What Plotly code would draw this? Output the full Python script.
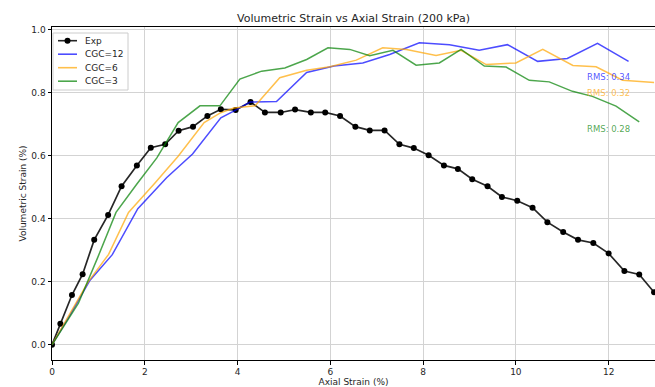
import plotly.graph_objects as go

# Experimental data
exp_x = [0, 0.18, 0.43, 0.66, 0.91, 1.21, 1.50, 1.83, 2.13, 2.44, 2.73, 3.04, 3.35, 3.64, 3.96,
         4.28, 4.59, 4.93, 5.24, 5.58, 5.89, 6.21, 6.54, 6.85, 7.17, 7.49, 7.80, 8.12, 8.45,
         8.75, 9.06, 9.39, 9.70, 10.03, 10.36, 10.68, 11.02, 11.34, 11.67, 12.00, 12.34, 12.66, 12.98]
exp_y = [0, 0.067, 0.158, 0.224, 0.333, 0.412, 0.503, 0.569, 0.625, 0.636, 0.679, 0.692, 0.726, 0.747, 0.745,
         0.770, 0.737, 0.737, 0.746, 0.737, 0.737, 0.726, 0.692, 0.680, 0.680, 0.636, 0.624, 0.601, 0.569,
         0.558, 0.525, 0.503, 0.469, 0.457, 0.435, 0.389, 0.358, 0.333, 0.323, 0.290, 0.234, 0.223, 0.167]

# CGC=12
c12_x = [0, 0.39, 0.82, 1.30, 1.85, 2.47, 3.03, 3.64, 3.98, 4.27, 4.84, 5.49, 6.08, 6.70, 7.28,
         7.92, 8.57, 9.21, 9.82, 10.47, 11.11, 11.76, 12.43]
c12_y = [0, 0.095, 0.205, 0.286, 0.432, 0.530, 0.605, 0.720, 0.746, 0.770, 0.772, 0.864, 0.884, 0.894, 0.921,
         0.958, 0.952, 0.934, 0.952, 0.899, 0.908, 0.956, 0.899]

# CGC=6
c6_x = [0, 0.40, 0.78, 1.22, 1.65, 2.22, 2.72, 3.28, 3.62, 3.92, 4.38, 4.91, 5.49, 5.99, 6.56,
        7.13, 7.64, 8.28, 8.82, 9.36, 10.00, 10.58, 11.23, 11.73, 12.30, 12.98]
c6_y = [0, 0.105, 0.200, 0.287, 0.420, 0.513, 0.598, 0.705, 0.735, 0.751, 0.758, 0.847, 0.871, 0.882, 0.903,
        0.942, 0.937, 0.918, 0.934, 0.889, 0.894, 0.937, 0.886, 0.882, 0.839, 0.832]

# CGC=3
c3_x = [0, 0.28, 0.57, 0.98, 1.38, 1.83, 2.26, 2.72, 3.19, 3.62, 4.05, 4.52, 5.02, 5.49, 5.95,
        6.42, 6.85, 7.35, 7.85, 8.35, 8.82, 9.32, 9.79, 10.29, 10.72, 11.22, 11.65, 12.16, 12.66]
c3_y = [0, 0.063, 0.132, 0.275, 0.420, 0.510, 0.593, 0.705, 0.758, 0.758, 0.843, 0.868, 0.878, 0.905, 0.942,
        0.937, 0.917, 0.934, 0.887, 0.894, 0.937, 0.884, 0.881, 0.839, 0.834, 0.804, 0.788, 0.757, 0.707]

series_names = ["Exp", "CGC=12", "CGC=6", "CGC=3"]
rms_labels = ["RMS: 0.34", "RMS: 0.32", "RMS: 0.28"]
rms_y = [0.850, 0.799, 0.685]
rms_x = 11.5

c_exp = "rgba(0,0,0,0.85)"
c_blue = "rgba(0,0,255,0.7)"
c_orange = "rgba(255,165,0,0.7)"
c_green = "rgba(0,128,0,0.7)"
colors = [c_exp, c_blue, c_orange, c_green]
FONT = "DejaVu Sans"

W, H = 655, 387
ML, MR, MT, MB = 52, 0, 27, 27
PW, PH = W - ML - MR, H - MT - MB


def px_x(p):  # pixel x -> paper x
    return (p - ML) / PW


def px_y(p):  # pixel y (from top) -> paper y
    return (H - MB - p) / PH


fig = go.Figure()
fig.add_trace(go.Scatter(x=exp_x, y=exp_y, mode="lines+markers", name=series_names[0],
                         line=dict(color=c_exp, width=1.7),
                         marker=dict(color="black", size=6)))
fig.add_trace(go.Scatter(x=c12_x, y=c12_y, mode="lines", name=series_names[1],
                         line=dict(color=c_blue, width=1.5)))
fig.add_trace(go.Scatter(x=c6_x, y=c6_y, mode="lines", name=series_names[2],
                         line=dict(color=c_orange, width=1.5)))
fig.add_trace(go.Scatter(x=c3_x, y=c3_y, mode="lines", name=series_names[3],
                         line=dict(color=c_green, width=1.5)))

for txt, yy, col in zip(rms_labels, rms_y, [c_blue, c_orange, c_green]):
    fig.add_annotation(x=rms_x, y=yy, text=txt, showarrow=False, xanchor="left",
                       yanchor="middle", font=dict(family=FONT, size=8.5, color=col))

# Matplotlib-style compact legend
shapes = [dict(type="rect", xref="paper", yref="paper",
               x0=px_x(53), x1=px_x(128), y0=px_y(90), y1=px_y(33),
               line=dict(color="#cccccc", width=1), fillcolor="rgba(255,255,255,0.85)",
               layer="above")]
row_px = [40.7, 54.2, 67.7, 81.2]
for name, col, ry in zip(series_names, colors, row_px):
    shapes.append(dict(type="line", xref="paper", yref="paper",
                       x0=px_x(58), x1=px_x(77), y0=px_y(ry), y1=px_y(ry),
                       line=dict(color=col, width=1.6), layer="above"))
    fig.add_annotation(xref="paper", yref="paper", x=px_x(83), y=px_y(ry), text=name,
                       showarrow=False, xanchor="left", yanchor="middle",
                       font=dict(family=FONT, size=9, color="#262626"))
shapes.append(dict(type="circle", xref="paper", yref="paper",
                   x0=px_x(64.5), x1=px_x(70.5), y0=px_y(row_px[0] + 3), y1=px_y(row_px[0] - 3),
                   line=dict(color="black", width=0), fillcolor="black", layer="above"))

fig.update_layout(
    width=W, height=H,
    margin=dict(l=ML, r=MR, t=MT, b=MB),
    paper_bgcolor="white", plot_bgcolor="white",
    font=dict(family=FONT, size=9, color="#262626"),
    title=dict(text="Volumetric Strain vs Axial Strain (200 kPa)", x=0.5, xref="paper",
               xanchor="center", y=1 - 18 / H, yref="container", yanchor="middle",
               font=dict(family=FONT, size=11, color="#262626")),
    showlegend=False,
    shapes=shapes,
    xaxis=dict(range=[0, 13], tickvals=[0, 2, 4, 6, 8, 10, 12], showgrid=True,
               gridcolor="#d3d3d3", gridwidth=1, zeroline=False,
               showline=True, linecolor="black", linewidth=1, mirror=True,
               ticks="outside", ticklen=3.5, tickcolor="black", automargin=False,
               tickfont=dict(size=9),
               title=dict(text="Axial Strain (%)", standoff=2, font=dict(size=9))),
    yaxis=dict(range=[-0.048, 1.008], tickvals=[0, 0.2, 0.4, 0.6, 0.8, 1.0],
               ticktext=["0.0", "0.2", "0.4", "0.6", "0.8", "1.0"], showgrid=True,
               gridcolor="#d3d3d3", gridwidth=1, zeroline=False,
               showline=True, linecolor="black", linewidth=1, mirror=False,
               ticks="outside", ticklen=3.5, tickcolor="black", automargin=False,
               tickfont=dict(size=9),
               title=dict(text="Volumetric Strain (%)", standoff=3, font=dict(size=9))),
)

fig.write_html("out.html")
